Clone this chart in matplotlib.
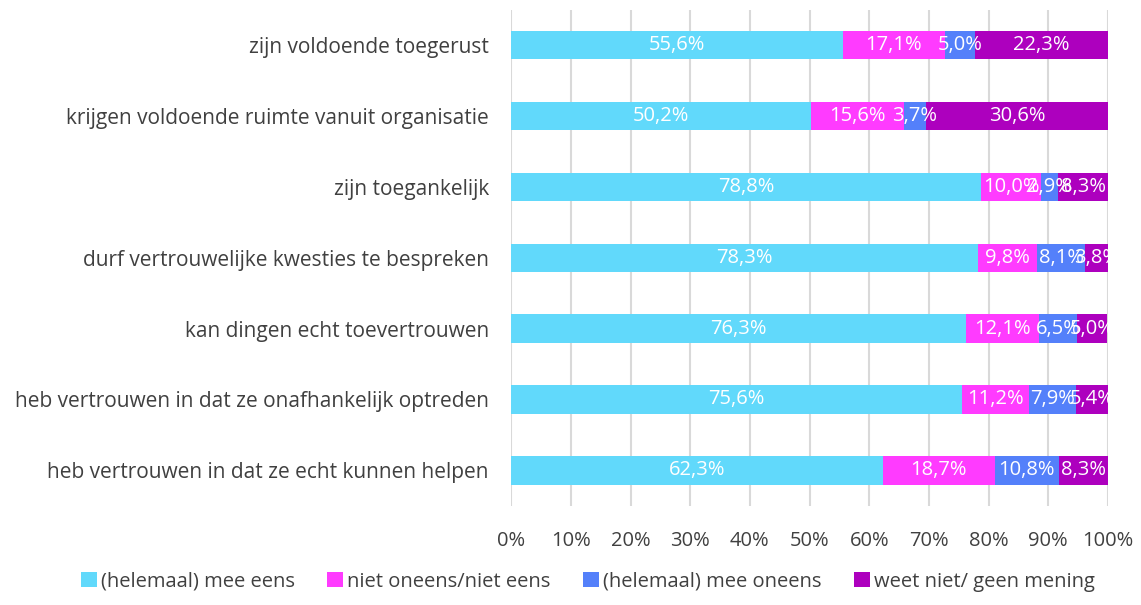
import numpy as np
import matplotlib.pyplot as plt

categories = [
    'zijn voldoende toegerust',
    'krijgen voldoende ruimte vanuit organisatie',
    'zijn toegankelijk',
    'durf vertrouwelijke kwesties te bespreken',
    'kan dingen echt toevertrouwen',
    'heb vertrouwen in dat ze onafhankelijk optreden',
    'heb vertrouwen in dat ze echt kunnen helpen',
]
mee_eens = [55.6, 50.2, 78.8, 78.3, 76.3, 75.6, 62.3]
neutraal = [17.1, 15.6, 10.0, 9.8, 12.1, 11.2, 18.7]
mee_oneens = [5.0, 3.7, 2.9, 8.1, 6.5, 7.9, 10.8]
weet_niet = [22.3, 30.6, 8.3, 3.8, 5.0, 5.4, 8.3]

series_names = ['(helemaal) mee eens', 'niet oneens/niet eens',
                '(helemaal) mee oneens', 'weet niet/ geen mening']
colors = ['#61D9FB', '#FF3BFF', '#5480FA', '#AD00BE']

plt.rcParams['font.family'] = ['Open Sans', 'DejaVu Sans']

fig = plt.figure(figsize=(11.41, 6.05), dpi=100)
ax = fig.add_axes([0.448, 0.164, 0.523, 0.82])

y = np.arange(len(categories))
data = [mee_eens, neutraal, mee_oneens, weet_niet]
left = np.zeros(len(categories))
for vals, name, col in zip(data, series_names, colors):
    vals = np.array(vals)
    ax.barh(y, vals, left=left, height=0.4, color=col, label=name)
    for yi, l, v in zip(y, left, vals):
        ax.text(l + v / 2, yi, f'{v:.1f}%'.replace('.', ','), ha='center',
                va='center', color='white', fontsize=14.5)
    left += vals

ax.set_xlim(0, 100)
ax.set_ylim(len(categories) - 0.5, -0.5)
ax.set_yticks(y)
ax.set_yticklabels(categories)
ax.set_xticks(np.arange(0, 101, 10))
ax.set_xticklabels([f'{t}%' for t in range(0, 101, 10)])
ax.tick_params(axis='both', length=0, labelsize=14.5, colors='#404040')
ax.tick_params(axis='y', labelsize=15, pad=16)
ax.tick_params(axis='x', pad=18)
ax.grid(axis='x', color='#D9D9D9', linewidth=1.5)
ax.set_axisbelow(True)
for s in ax.spines.values():
    s.set_visible(False)

fig.legend(loc='lower center', bbox_to_anchor=(0.515, -0.008), ncol=4, frameon=False,
           fontsize=14.5, labelcolor='#404040', handlelength=0.8, handleheight=0.8,
           handletextpad=0.2, columnspacing=1.6)

fig.savefig('out.png', dpi=100)
